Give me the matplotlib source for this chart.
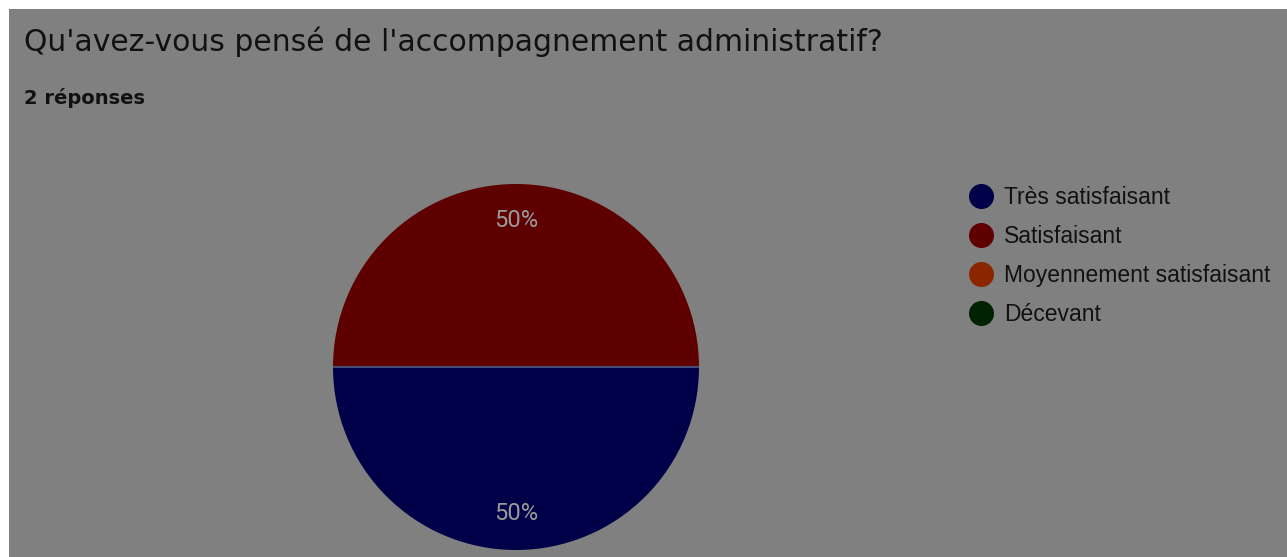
import matplotlib.pyplot as plt
from matplotlib.lines import Line2D
from matplotlib.patches import Rectangle

W, H = 1287, 557

categories = ["Très satisfaisant", "Satisfaisant", "Moyennement satisfaisant", "Décevant"]
counts = [1, 1, 0, 0]
colors = ["#000048", "#5e0000", "#8a2500", "#002200"]

fig = plt.figure(figsize=(W / 100, H / 100), dpi=100, facecolor="white")

# grey card (white strip on top and left)
fig.patches.append(Rectangle((9 / W, 0), 1, 1 - 9 / H, transform=fig.transFigure,
                             facecolor="#808080", edgecolor="none", zorder=-5))

fig.text(24 / W, 1 - 42 / H, "Qu'avez-vous pensé de l'accompagnement administratif?",
         fontsize=21.5, color="#111111", va="center", ha="left", family="DejaVu Sans")
fig.text(24 / W, 1 - 98 / H, "2 réponses", fontsize=14, fontweight="bold",
         color="#111111", va="center", ha="left", family="DejaVu Sans")

# pie axes placed in pixels: center (516, 367), radius 183
cx, cy, r = 516, 367, 183
ax = fig.add_axes([(cx - r) / W, (H - cy - r) / H, 2 * r / W, 2 * r / H])
ax.set_zorder(2)
ax.set_facecolor("none")

vals = [v for v in counts if v > 0]
cols = [c for v, c in zip(counts, colors) if v > 0]
wedges, _, autotexts = ax.pie(vals, colors=cols, startangle=180, radius=1,
                              autopct="%1.0f%%", pctdistance=0.8,
                              wedgeprops=dict(linewidth=0),
                              textprops=dict(color="#9a9a9a", fontsize=17,
                                             family="Roboto"))
ax.axhline(0, color="#4a5f86", linewidth=1.2)
ax.set_xlim(-1, 1)
ax.set_ylim(-1, 1)
ax.axis("off")

handles = [Line2D([], [], marker="o", linestyle="none", markersize=17,
                  markerfacecolor=c, markeredgecolor=c) for c in colors]
leg = fig.legend(handles, categories, loc="upper left",
                 bbox_to_anchor=(947 / W, 1 - 165 / H), frameon=False,
                 handlelength=1.2, handletextpad=0.4, labelspacing=0.71,
                 prop=dict(family="Liberation Sans", size=16.5), labelcolor="#111111")
leg.set_zorder(3)

fig.savefig("out.png", dpi=100, facecolor="white")
